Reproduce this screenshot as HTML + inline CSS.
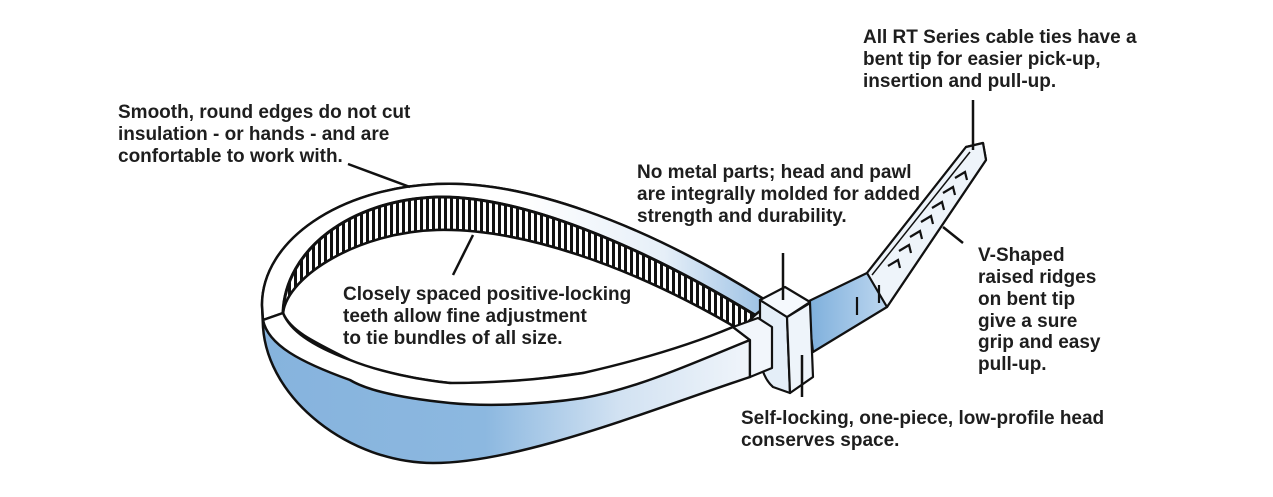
<!DOCTYPE html>
<html><head><meta charset="utf-8"><style>
html,body{margin:0;padding:0;background:#fff;}
svg{display:block}
text{font-family:"Liberation Sans",Arial,sans-serif;font-weight:bold;font-size:19px;fill:#1e1e1e}
</style></head><body>
<svg width="1273" height="497" viewBox="0 0 1273 497" xmlns="http://www.w3.org/2000/svg">
<defs>
<linearGradient id="bl" x1="260" y1="0" x2="760" y2="0" gradientUnits="userSpaceOnUse">
<stop offset="0" stop-color="#86b3dd"/><stop offset="0.45" stop-color="#8cb8e0"/>
<stop offset="0.72" stop-color="#d2e2f2"/><stop offset="1" stop-color="#f2f6fb"/>
</linearGradient>
<linearGradient id="bk" x1="520" y1="0" x2="760" y2="0" gradientUnits="userSpaceOnUse">
<stop offset="0" stop-color="#ffffff"/><stop offset="0.6" stop-color="#e6eff8"/><stop offset="1" stop-color="#9fc3e5"/>
</linearGradient>
<linearGradient id="tl" x1="810" y1="0" x2="990" y2="0" gradientUnits="userSpaceOnUse">
<stop offset="0" stop-color="#7fb0dc"/><stop offset="0.4" stop-color="#b9d4ee"/><stop offset="1" stop-color="#eef4fa"/>
</linearGradient>
<pattern id="teeth" x="0" y="0" width="6" height="10" patternUnits="userSpaceOnUse">
<rect x="0" y="0" width="3" height="10" fill="#111"/>
</pattern>
<clipPath id="tc"><path d="M755,315 C640,245 520,195 437,197 C350,200 285,250 283,313 C288,275 360,232 437,230 C520,228 630,265 740,330 Z"/></clipPath>
</defs>
<g stroke="#111" stroke-width="2.5" stroke-linejoin="round">
<path fill="url(#bl)" d="M770,303 C640,220 520,180 437,184 C340,188 262,240 262,305 L263,327 C268,400 350,463 433,463 C520,463 650,410 750,377 L750,340 Z"/>
<path fill="url(#bk)" d="M770,303 C640,220 520,180 437,184 C340,188 262,240 262,305 L263,320 L283,313 C285,250 350,200 437,197 C520,195 640,245 755,315 Z"/>
<path fill="#fff" d="M755,315 C640,245 520,195 437,197 C350,200 285,250 283,313 C288,275 360,232 437,230 C520,228 630,265 740,330 Z"/>
<path fill="#fff" d="M283,313 C288,275 360,232 437,230 C520,228 630,265 740,330 L733,327 C680,350 620,370 583,373 C530,380 480,388 450,383 C400,378 360,365 350,360 C310,340 290,330 283,313 Z"/>
<path fill="#fff" d="M263,320 L283,313 C290,330 310,345 350,360 C380,372 420,380 450,383 C490,383 540,380 583,373 C640,360 690,345 733,327 L750,340 C700,360 640,388 583,398 C530,406 480,406 450,403 C410,399 370,392 350,380 C300,362 268,345 263,320 Z"/>
</g>
<rect x="280" y="190" width="480" height="150" fill="url(#teeth)" clip-path="url(#tc)"/>
<path fill="none" stroke="#111" stroke-width="3" d="M755,315 C640,245 520,195 437,197 C350,200 285,250 283,313"/>
<path fill="none" stroke="#111" stroke-width="1.5" d="M740,330 C630,265 520,228 437,230 C360,232 288,275 283,313"/>
<g stroke="#111" stroke-width="2.2" stroke-linejoin="round">
<path fill="url(#tl)" d="M807,302 L867,273 L966,147 L983,143 L986,160 L887,307 L813,352 Z"/>
<path fill="#eef4fa" d="M867,273 L966,147 L983,143 L986,160 L887,307 Z"/>
<line x1="872" y1="275" x2="970" y2="152" stroke-width="1.5"/>
</g>
<g fill="none" stroke="#111" stroke-width="2.2">
<path d="M955,178 l10,-6 l2,8"/><path d="M943,193 l10,-6 l2,8"/><path d="M932,208 l10,-6 l2,8"/>
<path d="M921,222 l10,-6 l2,8"/><path d="M910,237 l10,-6 l2,8"/><path d="M899,251 l10,-6 l2,8"/>
<path d="M888,266 l10,-6 l2,8"/>
<line x1="879" y1="285" x2="879" y2="303"/><line x1="857" y1="297" x2="857" y2="315"/>
</g>
<g stroke="#111" stroke-width="2.2" stroke-linejoin="round">
<path fill="#e4eef8" d="M760,300 L787,317 L790,393 L773,387 C765,380 762,370 760,360 Z"/>
<path fill="#eef4fa" d="M787,317 L810,303 L813,377 L790,393 Z"/>
<path fill="#f5f9fd" d="M760,300 L785,287 L810,302 L787,317 Z"/>
<path fill="#f2f6fb" d="M750,340 L733,327 L758,318 L772,327 L772,368 L750,377 Z"/>
</g>
<g stroke="#111" stroke-width="2.5">
<line x1="348" y1="164" x2="410" y2="187"/>
<line x1="473" y1="235" x2="453" y2="275"/>
<line x1="783" y1="253" x2="783" y2="300"/>
<line x1="802" y1="355" x2="802" y2="397"/>
<line x1="973" y1="100" x2="973" y2="150"/>
<line x1="943" y1="227" x2="963" y2="243"/>
</g>
<text x="863" y="43">All RT Series cable ties have a</text>
<text x="863" y="65">bent tip for easier pick-up,</text>
<text x="863" y="87">insertion and pull-up.</text>
<text x="118" y="118">Smooth, round edges do not cut</text>
<text x="118" y="140">insulation - or hands - and are</text>
<text x="118" y="162">confortable to work with.</text>
<text x="637" y="178">No metal parts; head and pawl</text>
<text x="637" y="200">are integrally molded for added</text>
<text x="637" y="222">strength and durability.</text>
<text x="343" y="300">Closely spaced positive-locking</text>
<text x="343" y="322">teeth allow fine adjustment</text>
<text x="343" y="344">to tie bundles of all size.</text>
<text x="978" y="261">V-Shaped</text>
<text x="978" y="283">raised ridges</text>
<text x="978" y="305">on bent tip</text>
<text x="978" y="327">give a sure</text>
<text x="978" y="348">grip and easy</text>
<text x="978" y="370">pull-up.</text>
<text x="741" y="424">Self-locking, one-piece, low-profile head</text>
<text x="741" y="446">conserves space.</text>
</svg>
</body></html>
